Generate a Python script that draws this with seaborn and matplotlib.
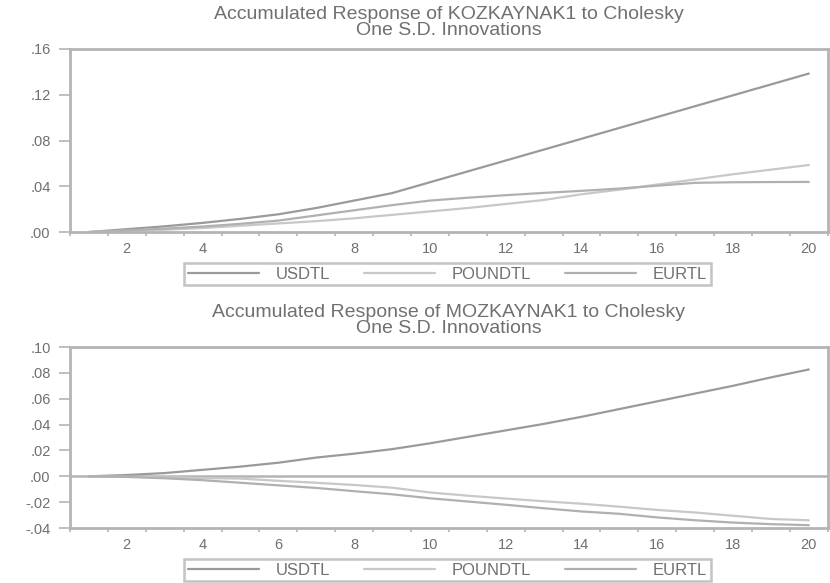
import matplotlib
matplotlib.use("Agg")
import matplotlib.pyplot as plt
import numpy as np
import pandas as pd
import seaborn as sns

# periods 1..20
periods = list(range(1, 21))

# Accumulated response of KOZKAYNAK1
koz_usdtl = [0.0, 0.0025, 0.005, 0.008, 0.0115, 0.0155, 0.021, 0.0275, 0.034, 0.0435,
             0.053, 0.0625, 0.072, 0.0815, 0.091, 0.1005, 0.110, 0.1195, 0.129, 0.1385]
koz_poundtl = [0.0, 0.001, 0.002, 0.0035, 0.0055, 0.0075, 0.0095, 0.012, 0.015, 0.018,
               0.021, 0.0245, 0.028, 0.033, 0.037, 0.0415, 0.046, 0.0505, 0.0545, 0.0586]
koz_eurtl = [0.0, 0.0015, 0.003, 0.0048, 0.0072, 0.010, 0.0145, 0.019, 0.0235, 0.0275,
             0.0300, 0.0322, 0.0342, 0.036, 0.038, 0.0405, 0.043, 0.0435, 0.0437, 0.0438]

# Accumulated response of MOZKAYNAK1
moz_usdtl = [0.0, 0.001, 0.0025, 0.005, 0.0075, 0.0105, 0.0145, 0.0175, 0.021, 0.0255,
             0.0305, 0.0355, 0.0405, 0.046, 0.052, 0.058, 0.064, 0.070, 0.0765, 0.0826]
moz_poundtl = [0.0, -0.0003, -0.0008, -0.0013, -0.0018, -0.0035, -0.005, -0.0067, -0.0088, -0.0125,
               -0.015, -0.0172, -0.0193, -0.0212, -0.0235, -0.026, -0.028, -0.0305, -0.033, -0.034]
moz_eurtl = [0.0, -0.0005, -0.0015, -0.003, -0.005, -0.007, -0.009, -0.0115, -0.0139, -0.017,
             -0.0195, -0.022, -0.0247, -0.0272, -0.029, -0.0318, -0.034, -0.0358, -0.037, -0.0378]

series_names = ["USDTL", "POUNDTL", "EURTL"]
koz_ticks = [0.00, 0.04, 0.08, 0.12, 0.16]
moz_ticks = [-0.04, -0.02, 0.00, 0.02, 0.04, 0.06, 0.08, 0.10]

palette = {"USDTL": "#9a9a9a", "POUNDTL": "#c8c8c8", "EURTL": "#b0b0b0"}
frame_col = "#b4b4b4"
text_col = "#707070"

sns.set_theme(style="white")
plt.rcParams["font.family"] = ["Liberation Sans", "DejaVu Sans"]


def fmt_tick(v):
    s = f"{v:.2f}"
    return s.replace("0.", ".", 1)


def draw_panel(ax, usd, pound, eur, yticks, title, legend_y):
    df = pd.DataFrame({
        "period": periods * 3,
        "value": usd + pound + eur,
        "series": [n for n in series_names for _ in periods],
    })
    sns.lineplot(data=df, x="period", y="value", hue="series", palette=palette,
                 hue_order=series_names, linewidth=1.6, ax=ax, legend=False)
    if yticks[0] < 0:
        ax.axhline(0, color=frame_col, linewidth=1.8, zorder=0)
    ax.set_xlim(0.5, 20.5)
    ax.set_ylim(yticks[0], yticks[-1])
    ax.set_yticks(yticks)
    ax.set_yticklabels([fmt_tick(v) for v in yticks])
    ax.set_xticks(range(2, 21, 2))
    ax.set_xticks(np.arange(0.5, 21, 1.0), minor=True)
    ax.tick_params(axis="x", which="major", length=0, pad=7, labelsize=10.5, labelcolor=text_col)
    ax.tick_params(axis="x", which="minor", length=3, width=1.2, color=frame_col, bottom=True)
    ax.tick_params(axis="y", length=8, width=1.2, color=frame_col, pad=6,
                   labelsize=10.5, labelcolor=text_col, left=True)
    ax.set_xlabel("")
    ax.set_ylabel("")
    for sp in ax.spines.values():
        sp.set_color(frame_col)
        sp.set_linewidth(2)
    ax.set_title(title, fontsize=14, color=text_col, pad=10, linespacing=0.95)

    handles = [plt.Line2D([], [], color=palette[n], linewidth=1.6) for n in series_names]
    leg = ax.figure.legend(handles, series_names, loc="center",
                           bbox_to_anchor=(0.539, legend_y), ncol=3, frameon=True,
                           fancybox=False, edgecolor=frame_col, handlelength=4.3,
                           handletextpad=1.0, columnspacing=2.0, fontsize=12,
                           borderpad=0.2, borderaxespad=0.0, labelcolor=text_col)
    leg.get_frame().set_linewidth(1.8)


fig = plt.figure(figsize=(8.30, 5.83), dpi=100)
ax1 = fig.add_axes([0.0843, 0.602, 0.913, 0.314])
ax2 = fig.add_axes([0.0843, 0.0943, 0.913, 0.3105])

draw_panel(ax1, koz_usdtl, koz_poundtl, koz_eurtl, koz_ticks,
           "Accumulated Response of KOZKAYNAK1 to Cholesky\nOne S.D. Innovations", 0.53)
draw_panel(ax2, moz_usdtl, moz_poundtl, moz_eurtl, moz_ticks,
           "Accumulated Response of MOZKAYNAK1 to Cholesky\nOne S.D. Innovations", 0.022)

fig.savefig("out.png", dpi=100)
